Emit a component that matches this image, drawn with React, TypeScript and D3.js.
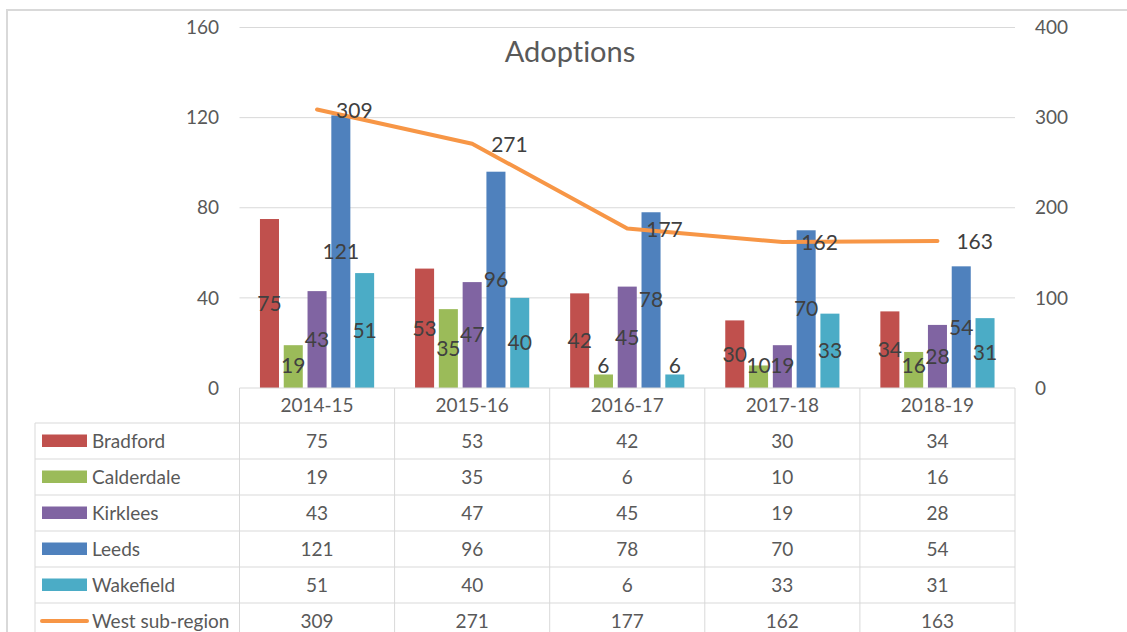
import React, { useEffect, useRef } from 'react';
import * as d3 from 'd3';

const years = ['2014-15', '2015-16', '2016-17', '2017-18', '2018-19'];
const councils = ['Bradford', 'Calderdale', 'Kirklees', 'Leeds', 'Wakefield'];
const bradford = [75, 53, 42, 30, 34];
const calderdale = [19, 35, 6, 10, 16];
const kirklees = [43, 47, 45, 19, 28];
const leeds = [121, 96, 78, 70, 54];
const wakefield = [51, 40, 6, 33, 31];
const westSubRegion = [309, 271, 177, 162, 163];
const leftTicks = [0, 40, 80, 120, 160];
const rightTicks = [0, 100, 200, 300, 400];
const lineName = 'West sub-region';

const barColors = ['#c0504d', '#9bbb59', '#8064a2', '#4f81bd', '#4bacc6'];
const lineColor = '#f79646';
const gridColor = '#d9d9d9';
const font = 'Lato, "Open Sans", sans-serif';

const App = () => {
  const ref = useRef<SVGSVGElement>(null);

  useEffect(() => {
    const svg = d3.select(ref.current);
    svg.selectAll('*').remove();

    const width = 1127;
    const height = 632;
    const left = 239.5;
    const right = 1015;
    const top = 27.5;
    const base = 388;
    const rowH = 36;
    const tableLeft = 35;

    const barSeries = [bradford, calderdale, kirklees, leeds, wakefield];

    const x0 = d3.scaleBand<string>().domain(years).range([left, right]);
    const x1 = d3.scaleBand<string>()
      .domain(councils)
      .range([0, x0.bandwidth()])
      .paddingInner(0.2)
      .paddingOuter(0.86);
    const y = d3.scaleLinear().domain([0, 160]).range([base, top]);
    const y2 = d3.scaleLinear().domain([0, 400]).range([base, top]);

    // outer frame
    svg.append('path')
      .attr('d', `M7,${height} V10 H${width}`)
      .attr('fill', 'none')
      .attr('stroke', gridColor)
      .attr('stroke-width', 2);

    // gridlines
    svg.append('g')
      .selectAll('line')
      .data(leftTicks.slice(1))
      .enter().append('line')
      .attr('x1', left).attr('x2', right)
      .attr('y1', d => y(d)).attr('y2', d => y(d))
      .attr('stroke', gridColor)
      .attr('stroke-width', 1);

    // left axis labels
    svg.append('g')
      .selectAll('text')
      .data(leftTicks)
      .enter().append('text')
      .attr('x', 219)
      .attr('y', d => y(d))
      .attr('dy', '0.35em')
      .attr('text-anchor', 'end')
      .attr('fill', '#595959')
      .style('font-family', font)
      .style('font-size', '19px')
      .text(d => d);

    // right axis labels
    svg.append('g')
      .selectAll('text')
      .data(rightTicks)
      .enter().append('text')
      .attr('x', 1035)
      .attr('y', d => y2(d))
      .attr('dy', '0.35em')
      .attr('fill', '#595959')
      .style('font-family', font)
      .style('font-size', '19px')
      .text(d => d);

    // bars
    barSeries.forEach((vals, si) => {
      const g = svg.append('g');
      g.selectAll('rect')
        .data(vals)
        .enter().append('rect')
        .attr('x', (d, i) => (x0(years[i]) ?? 0) + (x1(councils[si]) ?? 0))
        .attr('y', d => y(d))
        .attr('width', x1.bandwidth())
        .attr('height', d => base - y(d))
        .attr('fill', barColors[si]);
    });

    // bar labels
    barSeries.forEach((vals, si) => {
      svg.append('g')
        .selectAll('text')
        .data(vals)
        .enter().append('text')
        .attr('x', (d, i) => (x0(years[i]) ?? 0) + (x1(councils[si]) ?? 0) + x1.bandwidth() / 2)
        .attr('y', d => Math.min((y(d) + base) / 2, base - 22))
        .attr('dy', '0.35em')
        .attr('text-anchor', 'middle')
        .attr('fill', '#404040')
        .style('font-family', font)
        .style('font-size', '21px')
        .text(d => d);
    });

    // line on secondary axis
    const line = d3.line<number>()
      .x((d, i) => (x0(years[i]) ?? 0) + x0.bandwidth() / 2)
      .y(d => y2(d));

    svg.append('path')
      .datum(westSubRegion)
      .attr('fill', 'none')
      .attr('stroke', lineColor)
      .attr('stroke-width', 4)
      .attr('stroke-linecap', 'round')
      .attr('stroke-linejoin', 'round')
      .attr('d', line);

    svg.append('g')
      .selectAll('text')
      .data(westSubRegion)
      .enter().append('text')
      .attr('x', (d, i) => (x0(years[i]) ?? 0) + x0.bandwidth() / 2 + 19)
      .attr('y', d => y2(d) + 1)
      .attr('dy', '0.35em')
      .attr('fill', '#404040')
      .style('font-family', font)
      .style('font-size', '21px')
      .text(d => d);

    // title
    svg.append('text')
      .attr('x', 570)
      .attr('y', 52)
      .attr('dy', '0.35em')
      .attr('text-anchor', 'middle')
      .attr('fill', '#595959')
      .style('font-family', font)
      .style('font-size', '29px')
      .style('font-variant-ligatures', 'none')
      .text('Adoptions');

    // data table
    const rows = [...councils, lineName];
    const rowVals = [...barSeries, westSubRegion];
    const table = svg.append('g');
    const rowY = (i: number) => base + 35 + i * rowH;

    // horizontal lines
    table.append('line')
      .attr('x1', left).attr('x2', right)
      .attr('y1', base).attr('y2', base)
      .attr('stroke', gridColor);
    table.selectAll('line.row')
      .data(d3.range(rows.length + 1))
      .enter().append('line')
      .attr('class', 'row')
      .attr('x1', tableLeft).attr('x2', right)
      .attr('y1', d => rowY(d)).attr('y2', d => rowY(d))
      .attr('stroke', gridColor);

    // vertical lines
    table.selectAll('line.col')
      .data(d3.range(years.length + 1))
      .enter().append('line')
      .attr('class', 'col')
      .attr('x1', d => left + d * x0.step()).attr('x2', d => left + d * x0.step())
      .attr('y1', base).attr('y2', height)
      .attr('stroke', gridColor);
    table.append('line')
      .attr('x1', tableLeft).attr('x2', tableLeft)
      .attr('y1', rowY(0)).attr('y2', height)
      .attr('stroke', gridColor);

    // header
    table.selectAll('text.head')
      .data(years)
      .enter().append('text')
      .attr('class', 'head')
      .attr('x', d => (x0(d) ?? 0) + x0.bandwidth() / 2)
      .attr('y', (base + rowY(0)) / 2)
      .attr('dy', '0.35em')
      .attr('text-anchor', 'middle')
      .attr('fill', '#595959')
      .style('font-family', font)
      .style('font-size', '19px')
      .text(d => d);

    rows.forEach((name, ri) => {
      const cy = rowY(ri) + rowH / 2;
      if (ri < councils.length) {
        table.append('rect')
          .attr('x', 42).attr('y', cy - 6.5)
          .attr('width', 45).attr('height', 12.5)
          .attr('fill', barColors[ri]);
      } else {
        table.append('line')
          .attr('x1', 42).attr('x2', 87)
          .attr('y1', cy).attr('y2', cy)
          .attr('stroke', lineColor)
          .attr('stroke-width', 4)
          .attr('stroke-linecap', 'round');
      }
      table.append('text')
        .attr('x', 92)
        .attr('y', cy)
        .attr('dy', '0.35em')
        .attr('fill', '#595959')
        .style('font-family', font)
        .style('font-size', '19px')
        .text(name);

      table.selectAll(`text.v${ri}`)
        .data(rowVals[ri])
        .enter().append('text')
        .attr('class', `v${ri}`)
        .attr('x', (d, i) => (x0(years[i]) ?? 0) + x0.bandwidth() / 2)
        .attr('y', cy)
        .attr('dy', '0.35em')
        .attr('text-anchor', 'middle')
        .attr('fill', '#595959')
        .style('font-family', font)
        .style('font-size', '19px')
        .text(d => d);
    });
  }, []);

  return (
    <svg
      ref={ref}
      width={1127}
      height={632}
      style={{ position: 'absolute', left: 0, top: 0, background: '#fff' }}
    ></svg>
  );
};

export default App;
